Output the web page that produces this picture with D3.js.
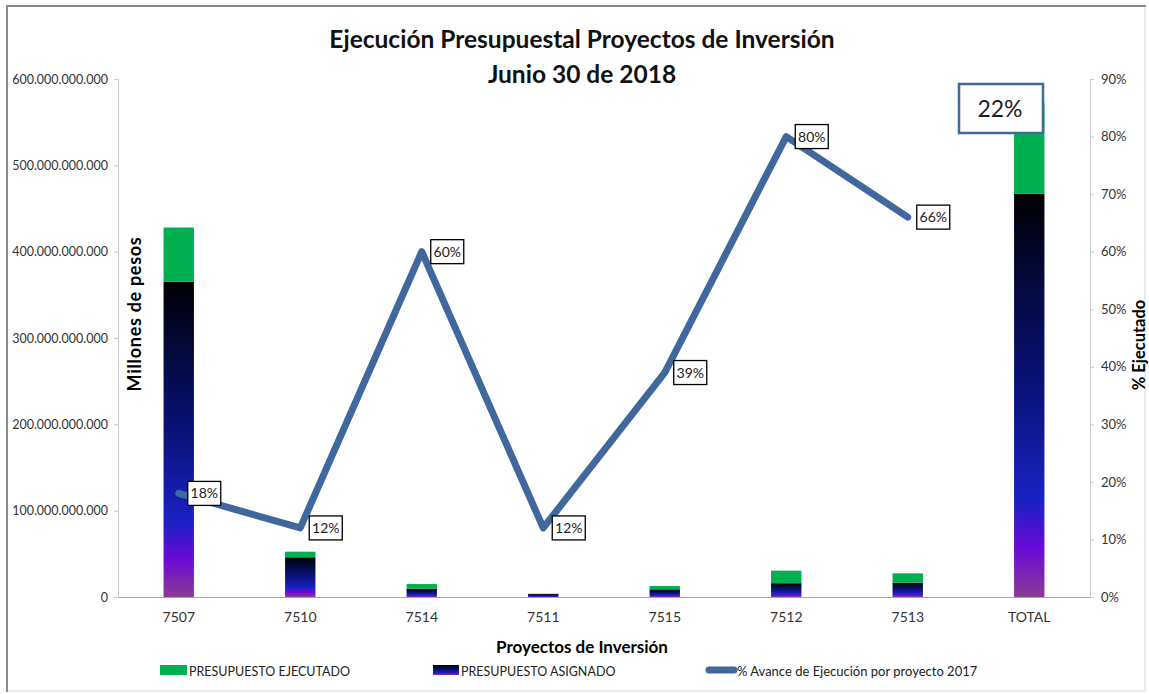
<!DOCTYPE html>
<html>
<head>
<meta charset="UTF-8">
<script src="https://cdn.jsdelivr.net/npm/d3@7"></script>
<style>
body { margin: 0; background: #fff; }
text { font-family: Lato, "Open Sans", sans-serif; }
</style>
</head>
<body>
<script>

// data
var categories = ["7507", "7510", "7514", "7511", "7515", "7512", "7513", "TOTAL"];
var asignado  = [365e9, 46e9, 9.6e9, 3.4e9, 8.9e9, 16e9, 16.6e9, 467e9];
var ejecutado = [63e9, 6.5e9, 5.4e9, 0.4e9, 3.8e9, 14.5e9, 10.8e9, 105e9];
var avance = [0.18, 0.12, 0.60, 0.12, 0.39, 0.80, 0.66];
var totalPct = 0.22;
var leftTicks = [0, 100e9, 200e9, 300e9, 400e9, 500e9, 600e9];
var rightTicks = [0, 0.1, 0.2, 0.3, 0.4, 0.5, 0.6, 0.7, 0.8, 0.9];

var width = 1149, height = 694;
var mLeft = 118, mRight = 1090, mTop = 79, mBottom = 597;
var lineColor = "#41689c";

var svg = d3.select("body").append("svg")
    .attr("width", width)
    .attr("height", height);

// frame
svg.append("rect").attr("x", 7).attr("y", 6).attr("width", 1138).attr("height", 685)
    .attr("fill", "#fff").attr("stroke", "#d8d8d8").attr("stroke-width", 1);
svg.append("line").attr("x1", 7).attr("y1", 5).attr("x2", 7).attr("y2", 692)
    .attr("stroke", "#8c8c8c").attr("stroke-width", 2);
svg.append("line").attr("x1", 7).attr("y1", 6).attr("x2", 1146).attr("y2", 6)
    .attr("stroke", "#8c8c8c").attr("stroke-width", 2);

var defs = svg.append("defs");
var grad = defs.append("linearGradient")
    .attr("id", "asig")
    .attr("x1", 0).attr("y1", 0).attr("x2", 0).attr("y2", 1);
[["0%", "#000000"], ["20%", "#040838"], ["50%", "#0b137e"], ["76%", "#1a22c4"],
 ["88%", "#6a0ad6"], ["100%", "#8a3c92"]].forEach(function(s) {
    grad.append("stop").attr("offset", s[0]).attr("stop-color", s[1]);
});

var x = d3.scaleBand().domain(categories).range([mLeft, mRight]);
var y = d3.scaleLinear().domain([0, 600e9]).range([mBottom, mTop]);
var y2 = d3.scaleLinear().domain([0, 0.9]).range([mBottom, mTop]);

var loc = d3.formatLocale({decimal: ",", thousands: ".", grouping: [3], currency: ["$", ""]});
var fmt = loc.format(",.0f");

// axes
var yAxis = svg.append("g")
    .attr("transform", "translate(" + mLeft + ",0)")
    .call(d3.axisLeft(y).tickValues(leftTicks).tickFormat(fmt).tickSize(4).tickPadding(6));
var y2Axis = svg.append("g")
    .attr("transform", "translate(" + mRight + ",0)")
    .call(d3.axisRight(y2).tickValues(rightTicks).tickFormat(d3.format(".0%")).tickSize(4).tickPadding(7));
[yAxis, y2Axis].forEach(function(a) {
    a.select(".domain").attr("stroke", "#c8c8c8");
    a.selectAll(".tick line").attr("stroke", "#c8c8c8");
    a.selectAll(".tick text").attr("font-size", 13).attr("fill", "#333")
        .style("font-family", "Lato, sans-serif");
});
yAxis.selectAll(".tick text").attr("font-size", 12.5);

var xAxis = svg.append("g")
    .attr("transform", "translate(0," + mBottom + ")")
    .call(d3.axisBottom(x).tickSize(0).tickPadding(15));
xAxis.select(".domain").attr("stroke", "#a6a6a6");
xAxis.selectAll(".tick text").attr("font-size", 14).attr("fill", "#333")
    .style("font-family", "Lato, sans-serif");

// bars
var bw = x.bandwidth() * 0.25;
var bars = svg.append("g").selectAll("g")
    .data(categories)
    .enter().append("g");

bars.append("rect")
    .attr("x", function(d) { return x(d) + (x.bandwidth() - bw) / 2; })
    .attr("y", function(d, i) { return y(asignado[i]); })
    .attr("width", bw)
    .attr("height", function(d, i) { return mBottom - y(asignado[i]); })
    .attr("fill", "url(#asig)");

bars.append("rect")
    .attr("x", function(d) { return x(d) + (x.bandwidth() - bw) / 2; })
    .attr("y", function(d, i) { return y(asignado[i] + ejecutado[i]); })
    .attr("width", bw)
    .attr("height", function(d, i) { return y(asignado[i]) - y(asignado[i] + ejecutado[i]); })
    .attr("fill", "#00b050");

// line
var pts = avance.map(function(v, i) { return [x(categories[i]) + x.bandwidth() / 2, y2(v)]; });
svg.append("path")
    .attr("d", d3.line()(pts))
    .attr("fill", "none")
    .attr("stroke", lineColor)
    .attr("stroke-width", 7)
    .attr("stroke-linejoin", "round")
    .attr("stroke-linecap", "round");

var lab = svg.append("g").selectAll("g")
    .data(pts)
    .enter().append("g")
    .attr("transform", function(d) { return "translate(" + (d[0] + 9) + "," + d[1] + ")"; });
lab.append("rect")
    .attr("x", 0).attr("y", -12).attr("width", 33).attr("height", 24)
    .attr("fill", "#fff").attr("stroke", "#000").attr("stroke-width", 1.3);
lab.append("text")
    .attr("x", 16.5).attr("y", 5)
    .attr("text-anchor", "middle")
    .attr("font-size", 14).attr("fill", "#222")
    .text(function(d, i) { return d3.format(".0%")(avance[i]); });

// total percentage box
svg.append("rect")
    .attr("x", 959).attr("y", 84).attr("width", 84).attr("height", 49)
    .attr("fill", "#fff").attr("stroke", lineColor).attr("stroke-width", 2.5);
svg.append("text")
    .attr("x", 1000).attr("y", 117)
    .attr("text-anchor", "middle")
    .attr("font-size", 23).attr("fill", "#222")
    .text(d3.format(".0%")(totalPct));

// titles
svg.append("text").attr("x", 582).attr("y", 48).attr("text-anchor", "middle")
    .attr("font-size", 24.5).attr("font-weight", "bold").attr("fill", "#111")
    .text("Ejecución Presupuestal Proyectos de Inversión");
svg.append("text").attr("x", 582).attr("y", 83).attr("text-anchor", "middle")
    .attr("font-size", 24.5).attr("font-weight", "bold").attr("fill", "#111")
    .text("Junio 30 de 2018");

svg.append("text").attr("transform", "translate(141,314) rotate(-90)")
    .attr("text-anchor", "middle").attr("font-size", 18).attr("font-weight", "bold")
    .attr("letter-spacing", 0.7)
    .text("Millones de pesos");
svg.append("text").attr("transform", "translate(1145,345) rotate(-90)")
    .attr("text-anchor", "middle").attr("font-size", 16.5).attr("font-weight", "bold")
    .text("% Ejecutado");
svg.append("text").attr("x", 582).attr("y", 653)
    .attr("text-anchor", "middle").attr("font-size", 17).attr("font-weight", "bold")
    .text("Proyectos de Inversión");

// legend
var leg = svg.append("g").attr("fill", "#222");
leg.append("rect").attr("x", 160).attr("y", 665).attr("width", 27).attr("height", 10).attr("fill", "#00b050");
leg.append("text").attr("x", 189).attr("y", 676).attr("font-size", 12.5).text("PRESUPUESTO EJECUTADO");
leg.append("rect").attr("x", 433).attr("y", 665).attr("width", 26).attr("height", 10).attr("fill", "url(#asig)");
leg.append("text").attr("x", 461).attr("y", 676).attr("font-size", 12.5).text("PRESUPUESTO ASIGNADO");
leg.append("line").attr("x1", 709).attr("y1", 670).attr("x2", 734).attr("y2", 670)
    .attr("stroke", lineColor).attr("stroke-width", 7).attr("stroke-linecap", "round");
leg.append("text").attr("x", 737).attr("y", 676).attr("font-size", 13).text("% Avance de Ejecución por proyecto 2017");

</script>
</body>
</html>
